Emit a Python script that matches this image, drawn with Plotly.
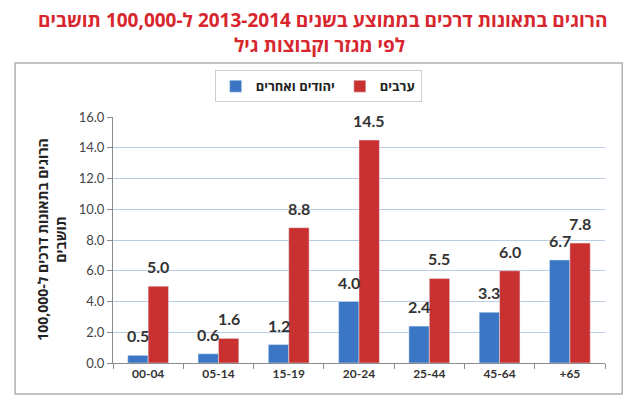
import plotly.graph_objects as go

# קבוצות גיל
age_groups = ["00-04", "05-14", "15-19", "20-24", "25-44", "45-64", "+65"]
jews_others = [0.5, 0.6, 1.2, 4.0, 2.4, 3.3, 6.7]
arabs = [5.0, 1.6, 8.8, 14.5, 5.5, 6.0, 7.8]
y_ticks = [0, 2, 4, 6, 8, 10, 12, 14, 16]

title_line1 = "הרוגים בתאונות דרכים בממוצע בשנים 2013-2014 ל-100,000 תושבים"
title_line2 = "לפי מגזר וקבוצות גיל"
ytitle_txt = "הרוגים בתאונות דרכים ל-100,000<br>תושבים"

heb_font = "Open Sans, DejaVu Sans, sans-serif"
num_font = "Lato, Open Sans, sans-serif"

bar_blue = go.Bar(x=age_groups, y=jews_others, name="יהודים ואחרים",
                  marker=dict(color="#3a76c4"))
bar_red = go.Bar(x=age_groups, y=arabs, name="ערבים",
                 marker=dict(color="#c93030"))

fig = go.Figure(data=[bar_blue, bar_red])

# הדף מוסיף 8px שוליים - מקזזים
fig.update_layout(
    width=639, height=413,
    margin=dict(l=105, r=42, t=109, b=58, autoexpand=False),
    paper_bgcolor="white", plot_bgcolor="white",
    barmode="group", bargap=0.42, bargroupgap=0,
    legend=dict(orientation="h", x=0.417, xanchor="center", y=1.19, yanchor="top",
                bordercolor="#cfcfcf", borderwidth=1, bgcolor="white",
                font=dict(family=heb_font, size=13, color="#222222", weight="bold"),
                itemwidth=30, traceorder="normal"),
    xaxis=dict(type="category", categoryorder="array", categoryarray=age_groups,
               showline=True, linecolor="#8c8c8c", linewidth=1,
               ticks="outside", tickson="boundaries", ticklen=5, tickcolor="#8c8c8c",
               tickfont=dict(family=num_font, size=12, color="#333333", weight="bold")),
    yaxis=dict(range=[0, 16], tickvals=y_ticks, tickformat=".1f",
               showline=True, linecolor="#8c8c8c", linewidth=1,
               ticks="outside", ticklen=5, tickcolor="#8c8c8c",
               gridcolor="#b9cde4", gridwidth=1, zeroline=False,
               tickfont=dict(family=num_font, size=13, color="#444444")),
    showlegend=True,
)

# תוויות ערכים מעל העמודות (קצת מורמות כמו במקור)
# x לפי אינדקס הקטגוריה, כי "+65" מתפרש כמספר
half_bar = 10.2
for vals, sh in [(jews_others, -half_bar), (arabs, half_bar)]:
    for i, v in enumerate(vals):
        fig.add_annotation(x=i, y=v, text=f"{v:.1f}", showarrow=False,
                           xanchor="center", yanchor="bottom", xshift=sh, yshift=8,
                           font=dict(family=num_font, size=16, color="#333333", weight="bold"))

# כותרת - שתי שורות
fig.add_annotation(text=title_line1, xref="paper", yref="paper", x=0.425, y=1.396,
                   xanchor="center", yanchor="middle", showarrow=False, borderpad=0,
                   font=dict(family=heb_font, size=19, color="#d8262e", weight="bold"))
fig.add_annotation(text=title_line2, xref="paper", yref="paper", x=0.42, y=1.293,
                   xanchor="center", yanchor="middle", showarrow=False, borderpad=0,
                   font=dict(family=heb_font, size=19, color="#d8262e", weight="bold"))

# שם ציר Y
fig.add_annotation(text=ytitle_txt, xref="paper", yref="paper", x=-0.124, y=0.505,
                   xanchor="center", yanchor="middle",
                   textangle=-90, showarrow=False,
                   font=dict(family=heb_font, size=14, color="#222222", weight="bold"))

# מסגרת חיצונית
fig.add_shape(type="rect", xref="paper", yref="paper", x0=-0.199, x1=1.035, y0=-0.126, y1=1.22,
              line=dict(color="#b0b0b0", width=1.5), layer="below")

fig.write_html("out.html")
